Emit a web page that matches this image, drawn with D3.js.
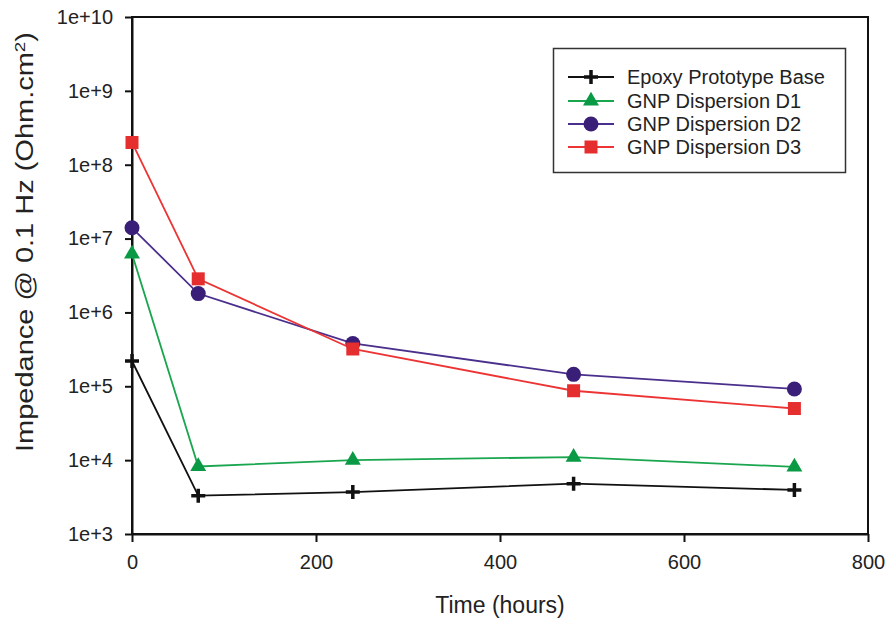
<!DOCTYPE html>
<html>
<head>
<meta charset="utf-8">
<script src="https://cdnjs.cloudflare.com/ajax/libs/d3/7.8.5/d3.min.js"></script>
<style>
  html, body { margin: 0; padding: 0; background: #ffffff; }
  svg { display: block; font-family: "Liberation Sans", Arial, sans-serif; }
</style>
</head>
<body>
<svg id="chart" width="888" height="619"></svg>
<script>
// ---- data ----
const times = [0, 72, 240, 480, 720];
const seriesNames = ["Epoxy Prototype Base", "GNP Dispersion D1", "GNP Dispersion D2", "GNP Dispersion D3"];
const epoxyBase = [2.2e5, 3.3e3, 3.7e3, 4.8e3, 3.95e3];
const gnpD1 = [6.2e6, 8.2e3, 1.0e4, 1.1e4, 8.1e3];
const gnpD2 = [1.4e7, 1.8e6, 3.8e5, 1.45e5, 9.2e4];
const gnpD3 = [2.0e8, 2.85e6, 3.2e5, 8.7e4, 5.0e4];
const xTickValues = [0, 200, 400, 600, 800];
const yTickValues = [1e3, 1e4, 1e5, 1e6, 1e7, 1e8, 1e9, 1e10];
const yTickLabels = ["1e+3", "1e+4", "1e+5", "1e+6", "1e+7", "1e+8", "1e+9", "1e+10"];

// ---- styles ----
const styles = [
  { line: "#111111", fill: "#111111", symbol: "cross" },
  { line: "#1aa64f", fill: "#0a9a45", symbol: "triangle" },
  { line: "#4a2f8c", fill: "#3a1f78", symbol: "circle" },
  { line: "#ec3434", fill: "#e52f2f", symbol: "square" }
];
const allValues = [epoxyBase, gnpD1, gnpD2, gnpD3];

const svg = d3.select("#chart");
const L = 132, R = 868, T = 17, B = 534;

const x = d3.scaleLinear().domain([0, 800]).range([L, R]);
const y = d3.scaleLog().domain([1e3, 1e10]).range([B, T]);

// frame
svg.append("rect").attr("x", L).attr("y", T).attr("width", R - L).attr("height", B - T)
  .attr("fill", "none").attr("stroke", "#111").attr("stroke-width", 2);

// axes
const xAxis = d3.axisBottom(x).tickValues(xTickValues).tickSize(8).tickPadding(13).tickSizeOuter(0);
const gx = svg.append("g").attr("transform", `translate(0,${B})`).call(xAxis);
gx.select(".domain").attr("stroke", "#111").attr("stroke-width", 2);
gx.selectAll(".tick line").attr("stroke", "#111").attr("stroke-width", 2);
gx.selectAll(".tick text").attr("font-size", 20).attr("fill", "#222")
  .attr("font-family", "Liberation Sans, Arial, sans-serif");

const yAxis = d3.axisLeft(y).tickValues(yTickValues)
  .tickFormat((d, i) => yTickLabels[i]).tickSize(7).tickPadding(12).tickSizeOuter(0);
const gy = svg.append("g").attr("transform", `translate(${L},0)`).call(yAxis);
gy.select(".domain").attr("stroke", "#111").attr("stroke-width", 2);
gy.selectAll(".tick line").attr("stroke", "#111").attr("stroke-width", 2);
gy.selectAll(".tick text").attr("font-size", 20).attr("fill", "#222")
  .attr("font-family", "Liberation Sans, Arial, sans-serif");

// axis titles
svg.append("text").attr("x", (L + R) / 2).attr("y", 613).attr("text-anchor", "middle")
  .attr("font-size", 23).attr("fill", "#222").text("Time (hours)");

const yt = svg.append("text").attr("transform", "translate(33,242) rotate(-90)")
  .attr("text-anchor", "middle").attr("font-size", 23).attr("fill", "#222")
  .attr("textLength", 420).attr("lengthAdjust", "spacingAndGlyphs");
yt.append("tspan").text("Impedance @ 0.1 Hz (Ohm.cm");
yt.append("tspan").attr("baseline-shift", "super").attr("font-size", 15).text("2");
yt.append("tspan").text(")");

// markers
function drawMarker(g, type, cx, cy, fill, scale) {
  const s = scale || 1;
  if (type === "cross") {
    g.append("path").attr("d", `M${cx - 7 * s},${cy}H${cx + 7 * s}M${cx},${cy - 7 * s}V${cy + 7 * s}`)
      .attr("stroke", fill).attr("stroke-width", 3.5).attr("fill", "none");
  } else if (type === "triangle") {
    g.append("path").attr("d", d3.symbol().type(d3.symbolTriangle).size(110 * s * s)())
      .attr("transform", `translate(${cx},${cy})`).attr("fill", fill);
  } else if (type === "circle") {
    g.append("circle").attr("cx", cx).attr("cy", cy).attr("r", 7.5 * s).attr("fill", fill);
  } else if (type === "square") {
    g.append("rect").attr("x", cx - 6.5 * s).attr("y", cy - 6.5 * s)
      .attr("width", 13 * s).attr("height", 13 * s).attr("fill", fill);
  }
}

const line = d3.line().x(d => x(d[0])).y(d => y(d[1]));
allValues.forEach((vals, i) => {
  const pts = times.map((t, j) => [t, vals[j]]);
  const g = svg.append("g");
  g.append("path").attr("d", line(pts)).attr("fill", "none")
    .attr("stroke", styles[i].line).attr("stroke-width", 1.8);
  pts.forEach(p => drawMarker(g, styles[i].symbol, x(p[0]), y(p[1]), styles[i].fill));
});

// legend
const lg = svg.append("g");
lg.append("rect").attr("x", 553.5).attr("y", 48.5).attr("width", 292).attr("height", 124)
  .attr("fill", "#fff").attr("stroke", "#333").attr("stroke-width", 1.5);
const rowY = [77, 101, 124, 147];
seriesNames.forEach((name, i) => {
  const cy = rowY[i];
  lg.append("line").attr("x1", 568).attr("x2", 614).attr("y1", cy).attr("y2", cy)
    .attr("stroke", styles[i].line).attr("stroke-width", 1.8);
  drawMarker(lg, styles[i].symbol, 591, cy, styles[i].fill);
  lg.append("text").attr("x", 627).attr("y", cy).attr("dy", "0.35em")
    .attr("font-size", 20).attr("fill", "#222").text(name);
});
</script>
</body>
</html>
